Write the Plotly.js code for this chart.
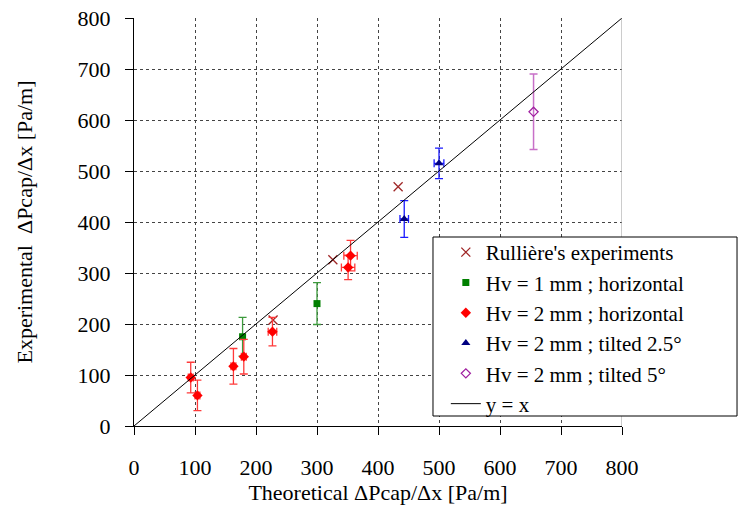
<!DOCTYPE html>
<html>
<head>
<meta charset="utf-8">
<script src="https://cdn.plot.ly/plotly-3.0.1.min.js"></script>
<style>html,body{margin:0;padding:0;background:#fff;}#chart{width:741px;height:515px;}</style>
</head>
<body>
<div id="chart"></div>
<script>
// Rullière's experiments
const rullX = [228, 326, 433];
const rullY = [208, 326, 469];
// Hv = 1 mm ; horizontal
const hv1hX = [178, 300];
const hv1hY = [175, 240];
const hv1hEy = [38, 41];
// Hv = 2 mm ; horizontal
const hv2hX = [93, 104, 163, 180, 227, 351, 355];
const hv2hY = [95, 60, 117, 136, 185, 311, 334];
const hv2hEy = [30, 30, 35, 34, 28, 24, 30];
const hv2hEx = [4, 4, 4, 4, 7, 11, 11];
// Hv = 2 mm ; tilted 2.5°
const hv2t25X = [443, 500];
const hv2t25Y = [406, 515];
const hv2t25Ey = [36, 30];
const hv2t25Ex = [7, 8];
// Hv = 2 mm ; tilted 5°
const hv2t5X = [655];
const hv2t5Y = [616];
const hv2t5Ey = [74];
// y = x
const lineX = [0, 800];
const lineY = [0, 800];
const tickVals = [0, 100, 200, 300, 400, 500, 600, 700, 800];

const FONT = 'Liberation Serif';

const traces = [
  {x: rullX, y: rullY, mode: 'markers', type: 'scatter', name: "Rullière's experiments",
   marker: {symbol: 'x-thin-open', size: 9, color: '#a02828', line: {width: 1.3, color: '#a02828'}}},
  {x: hv1hX, y: hv1hY, mode: 'markers', type: 'scatter', name: 'Hv = 1 mm ; horizontal',
   marker: {symbol: 'square', size: 7, color: '#008000'},
   error_y: {type: 'data', array: hv1hEy, visible: true, color: '#3c9a3c', thickness: 1.3, width: 4}},
  {x: hv2hX, y: hv2hY, mode: 'markers', type: 'scatter', name: 'Hv = 2 mm ; horizontal',
   marker: {symbol: 'diamond', size: 8, color: '#ff0000'},
   error_y: {type: 'data', array: hv2hEy, visible: true, color: '#ff3a3a', thickness: 1.3, width: 4},
   error_x: {type: 'data', array: hv2hEx, visible: true, color: '#ff3a3a', thickness: 1.3, width: 4}},
  {x: hv2t25X, y: hv2t25Y, mode: 'markers', type: 'scatter', name: 'Hv = 2 mm ; tilted 2.5°',
   marker: {symbol: 'triangle-up', size: 8, color: '#000080'},
   error_y: {type: 'data', array: hv2t25Ey, visible: true, color: '#1a1aff', thickness: 1.3, width: 4},
   error_x: {type: 'data', array: hv2t25Ex, visible: true, color: '#1a1aff', thickness: 1.3, width: 4}},
  {x: hv2t5X, y: hv2t5Y, mode: 'markers', type: 'scatter', name: 'Hv = 2 mm ; tilted 5°',
   marker: {symbol: 'diamond-open', size: 7, color: '#a020a0', line: {width: 1.3}},
   error_y: {type: 'data', array: hv2t5Ey, visible: true, color: '#c870c8', thickness: 1.5, width: 4}},
  {x: lineX, y: lineY, mode: 'lines', type: 'scatter', name: 'y = x',
   line: {color: '#000000', width: 1}}
];

const layout = {
  width: 741, height: 515,
  margin: {l: 134, r: 119, t: 18, b: 89},
  paper_bgcolor: '#ffffff', plot_bgcolor: '#ffffff',
  font: {family: FONT, size: 22, color: '#000'},
  showlegend: true,
  xaxis: {
    range: [0, 800], tickvals: tickVals, ticktext: tickVals.map(String),
    showgrid: true, gridcolor: '#444', griddash: 'dot', gridwidth: 1,
    zeroline: false, showline: true, linecolor: '#000', linewidth: 1,
    ticks: 'outside', ticklen: 8, tickcolor: '#000', ticklabelstandoff: 14,
    tickfont: {family: FONT, size: 22},
    title: {text: 'Theoretical ΔPcap/Δx [Pa/m]', font: {family: FONT, size: 22}, standoff: 4},
    mirror: false
  },
  yaxis: {
    range: [0, 800], tickvals: tickVals, ticktext: tickVals.map(String),
    showgrid: true, gridcolor: '#444', griddash: 'dot', gridwidth: 1,
    zeroline: false, showline: true, linecolor: '#000', linewidth: 1,
    ticks: 'outside', ticklen: 8, tickcolor: '#000', ticklabelstandoff: 10,
    tickfont: {family: FONT, size: 22},
    title: {text: 'Experimental  ΔPcap/Δx [Pa/m]', font: {family: FONT, size: 22}, standoff: 38}
  },
  shapes: [
    {type: 'line', xref: 'x', yref: 'y', x0: 800, x1: 800, y0: 0, y1: 800, line: {color: '#999', width: 1}},
    {type: 'rect', xref: 'paper', yref: 'paper', x0: 0.6127, x1: 1.2357, y0: 0.0245, y1: 0.4632,
     fillcolor: '#ffffff', line: {color: '#000', width: 1}, layer: 'above'}
  ],
  legend: {
    x: 0.639, y: 0.4755, xanchor: 'left', yanchor: 'top',
    bgcolor: 'rgba(0,0,0,0)', borderwidth: 0,
    font: {family: FONT, size: 21}, tracegroupgap: 0, itemwidth: 30
  }
};

Plotly.newPlot('chart', traces, layout, {displayModeBar: false, staticPlot: true});
</script>
</body>
</html>
